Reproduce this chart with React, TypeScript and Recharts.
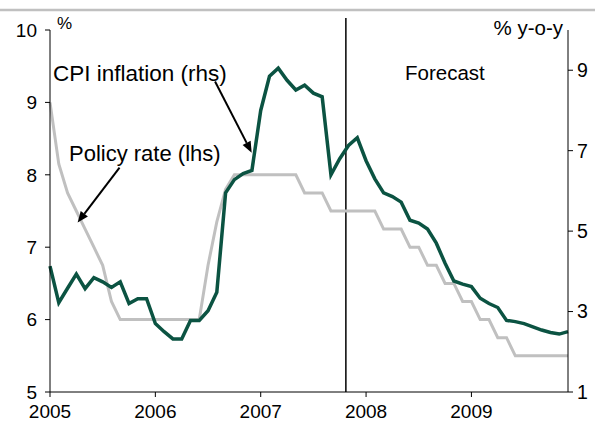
import React from 'react';
import { LineChart, Line, XAxis, YAxis, ReferenceLine } from 'recharts';

const years = ['2005', '2006', '2007', '2008', '2009'];
const yearTicks = [0, 12, 24, 36, 48];

const policyRate = [
  9.0, 8.15, 7.75, 7.5, 7.25, 7.0, 6.75, 6.25, 6.0, 6.0, 6.0, 6.0,
  6.0, 6.0, 6.0, 6.0, 6.0, 6.0, 6.75, 7.35, 7.8, 8.0, 8.0, 8.0,
  8.0, 8.0, 8.0, 8.0, 8.0, 7.75, 7.75, 7.75, 7.5, 7.5, 7.5, 7.5,
  7.5, 7.5, 7.25, 7.25, 7.25, 7.0, 7.0, 6.75, 6.75, 6.5, 6.5, 6.25,
  6.25, 6.0, 6.0, 5.75, 5.75, 5.5, 5.5, 5.5, 5.5, 5.5, 5.5, 5.5,
];

const cpiInflation = [
  4.13, 3.22, 3.58, 3.93, 3.57, 3.84, 3.74, 3.6, 3.74, 3.2, 3.32, 3.32,
  2.7, 2.5, 2.32, 2.32, 2.78, 2.78, 3.02, 3.48, 5.95, 6.28, 6.43, 6.51,
  8.0, 8.85, 9.05, 8.75, 8.51, 8.63, 8.43, 8.34, 6.4, 6.8, 7.13, 7.32,
  6.75, 6.3, 5.95, 5.86, 5.72, 5.27, 5.2, 5.05, 4.7, 4.2, 3.76, 3.68,
  3.62, 3.33, 3.2, 3.1, 2.78, 2.75, 2.7, 2.62, 2.54, 2.48, 2.44, 2.5,
];

const leftTicks = [5, 6, 7, 8, 9, 10];
const rightTicks = [1, 3, 5, 7, 9];

const forecastStart = 33.7;
const cpiArrow = [{ x: 18.8, y: 8.72 }, { x: 22.97, y: 6.95 }];
const policyArrow = [{ x: 7.92, y: 8.1 }, { x: 3.15, y: 7.34 }];

const data = policyRate.map((p, i) => ({ m: i, policy: p, cpi: cpiInflation[i] }));

const FONT = '"Liberation Sans", Arial, sans-serif';

const Arrow = (props: any) => {
  const { x1, y1, x2, y2 } = props;
  const dx = x2 - x1;
  const dy = y2 - y1;
  const len = Math.sqrt(dx * dx + dy * dy) || 1;
  const ux = dx / len;
  const uy = dy / len;
  const hl = 11;
  const hw = 4.5;
  const bx = x2 - ux * hl;
  const by = y2 - uy * hl;
  const pts = `${x2},${y2} ${bx - uy * hw},${by + ux * hw} ${bx + uy * hw},${by - ux * hw}`;
  return (
    <g>
      <line x1={x1} y1={y1} x2={bx} y2={by} stroke="#000" strokeWidth={2} />
      <polygon points={pts} fill="#000" />
    </g>
  );
};

const ForecastLine = (props: any) => {
  const { x1, y1, x2, y2 } = props;
  const top = Math.min(y1, y2) - 12;
  const bottom = Math.max(y1, y2);
  return <line x1={x1} y1={top} x2={x2} y2={bottom} stroke="#000" strokeWidth={1.5} />;
};

export default function App() {
  return (
    <div style={{ position: 'absolute', left: 0, top: 0, width: 595, height: 427, background: '#fff', fontFamily: FONT }}>
      <LineChart width={595} height={427} data={data} margin={{ top: 30, right: 0, bottom: 0, left: 0 }}>
        <XAxis
          dataKey="m"
          type="number"
          domain={[0, 59]}
          ticks={yearTicks}
          tickFormatter={(v: number) => years[Math.round(v / 12)]}
          height={35}
          stroke="#000"
          tickSize={5}
          tickMargin={8}
          tick={{ fill: '#000', fontSize: 19, fontFamily: FONT }}
        />
        <YAxis
          yAxisId="left"
          orientation="left"
          domain={[5, 10]}
          ticks={leftTicks}
          width={50}
          stroke="#000"
          tickSize={5}
          tickMargin={8}
          tick={{ fill: '#000', fontSize: 19, fontFamily: FONT }}
        />
        <YAxis
          yAxisId="right"
          orientation="right"
          domain={[1, 10]}
          ticks={rightTicks}
          width={27}
          stroke="#000"
          tickSize={5}
          tickMargin={4}
          tick={{ fill: '#000', fontSize: 19.5, fontFamily: FONT, textAnchor: 'start' }}
        />
        <ReferenceLine yAxisId="left" x={forecastStart} ifOverflow="visible" shape={ForecastLine} />
        <Line
          yAxisId="left"
          dataKey="policy"
          stroke="#c0c0c0"
          strokeWidth={3}
          dot={false}
          activeDot={false}
          isAnimationActive={false}
        />
        <Line
          yAxisId="right"
          dataKey="cpi"
          stroke="#0b5342"
          strokeWidth={3.5}
          dot={false}
          activeDot={false}
          isAnimationActive={false}
        />
        <ReferenceLine yAxisId="right" segment={cpiArrow} ifOverflow="visible" shape={Arrow} />
        <ReferenceLine yAxisId="left" segment={policyArrow} ifOverflow="visible" shape={Arrow} />
      </LineChart>
      <svg
        width={595}
        height={427}
        style={{ position: 'absolute', left: 0, top: 0, pointerEvents: 'none' }}
      >
        <line x1={0} y1={10} x2={595} y2={10} stroke="#c0c0c0" strokeWidth={2.5} />
        <text x={57} y={29} fontSize={17} fontFamily={FONT} fill="#000">%</text>
        <text x={563} y={35} fontSize={20.5} fontFamily={FONT} fill="#000" textAnchor="end">% y-o-y</text>
        <text x={53} y={81} fontSize={22.5} fontFamily={FONT} fill="#000">CPI inflation (rhs)</text>
        <text x={69} y={161} fontSize={22} fontFamily={FONT} fill="#000">Policy rate (lhs)</text>
        <text x={405} y={80} fontSize={20.5} fontFamily={FONT} fill="#000">Forecast</text>
      </svg>
    </div>
  );
}
